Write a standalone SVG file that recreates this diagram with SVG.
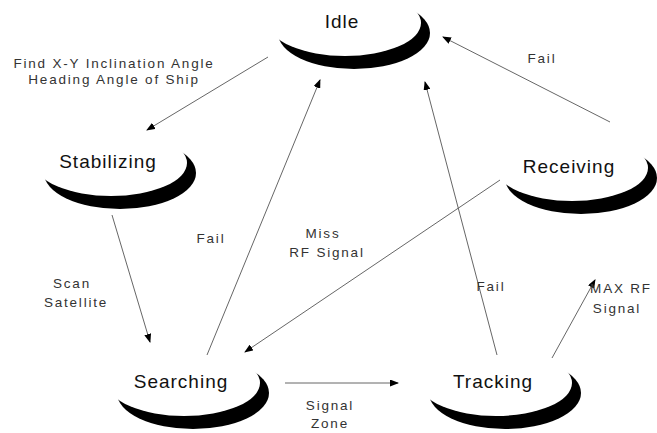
<svg xmlns="http://www.w3.org/2000/svg" width="657" height="433" viewBox="0 0 657 433">
  <style>
    .node-label { font-family: "Liberation Sans", Arial, sans-serif; font-size: 19px; letter-spacing: 1px; fill: #111; text-anchor: middle; }
    .edge-label { font-family: "Liberation Sans", Arial, sans-serif; font-size: 13.5px; letter-spacing: 1.8px; fill: #333; text-anchor: middle; }
    .edge { stroke: #555; stroke-width: 0.9; fill: none; marker-end: url(#arrow); }
    .shadow { fill: #000; }
    .face { fill: #fff; }
  </style>
  <defs>
    <marker id="arrow" markerUnits="userSpaceOnUse" markerWidth="9" markerHeight="7" refX="8" refY="3.5" orient="auto">
      <path d="M0,0 L9,3.5 L0,7 Z" fill="#000"/>
    </marker>
    <g id="crescent">
      <ellipse class="shadow" cx="12" cy="12" rx="76" ry="36"/>
      <ellipse class="face" cx="3" cy="2" rx="76" ry="33"/>
    </g>
  </defs>
  <rect width="657" height="433" fill="#fff"/>

  <g id="node-idle">
    <use href="#crescent" x="342" y="21"/>
    <text class="node-label" x="342" y="28">Idle</text>
  </g>
  <g id="node-stabilizing">
    <use href="#crescent" x="108" y="161"/>
    <text class="node-label" x="108" y="168">Stabilizing</text>
  </g>
  <g id="node-receiving">
    <use href="#crescent" x="569" y="166"/>
    <text class="node-label" x="569" y="173">Receiving</text>
  </g>
  <g id="node-searching">
    <use href="#crescent" x="181" y="381"/>
    <text class="node-label" x="181" y="388">Searching</text>
  </g>
  <g id="node-tracking">
    <use href="#crescent" x="493" y="381"/>
    <text class="node-label" x="493" y="388">Tracking</text>
  </g>

  <g id="connectors">
    <line class="edge" x1="268" y1="57" x2="147" y2="130"/>
    <line class="edge" x1="112" y1="215" x2="150" y2="342"/>
    <line class="edge" x1="207" y1="355" x2="320" y2="80"/>
    <line class="edge" x1="500" y1="180" x2="245" y2="352"/>
    <line class="edge" x1="497" y1="355" x2="425" y2="82"/>
    <line class="edge" x1="610" y1="122" x2="443" y2="37"/>
    <line class="edge" x1="552" y1="358" x2="595" y2="280"/>
    <line class="edge" x1="285" y1="383" x2="398" y2="383"/>
  </g>

  <g id="edge-labels">
    <text class="edge-label" x="114" y="68">Find X-Y Inclination Angle</text>
    <text class="edge-label" x="114" y="84">Heading Angle of Ship</text>
    <text class="edge-label" x="542" y="63">Fail</text>
    <text class="edge-label" x="211" y="243">Fail</text>
    <text class="edge-label" x="323" y="238">Miss</text>
    <text class="edge-label" x="327" y="257">RF Signal</text>
    <text class="edge-label" x="491" y="291">Fail</text>
    <text class="edge-label" x="72" y="288">Scan</text>
    <text class="edge-label" x="76" y="307">Satellite</text>
    <text class="edge-label" x="621" y="293">MAX RF</text>
    <text class="edge-label" x="617" y="313">Signal</text>
    <text class="edge-label" x="330" y="410">Signal</text>
    <text class="edge-label" x="330" y="428">Zone</text>
  </g>
</svg>
